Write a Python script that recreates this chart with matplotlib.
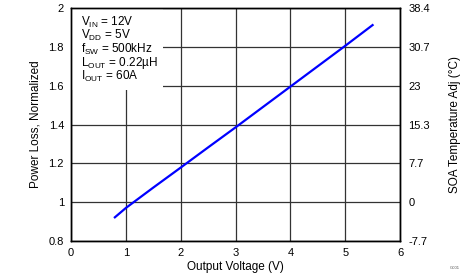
import matplotlib
matplotlib.use("Agg")
import matplotlib.pyplot as plt
from matplotlib.patches import Rectangle

plt.rcParams["font.family"] = ["Liberation Sans", "DejaVu Sans"]
plt.rcParams["mathtext.fontset"] = "custom"
plt.rcParams["mathtext.rm"] = "Liberation Sans"
plt.rcParams["mathtext.it"] = "Liberation Sans"

# data
vout = [0.8, 1.0, 1.5, 2.0, 2.5, 3.0, 3.5, 4.0, 4.5, 5.0, 5.5]
ploss = [0.922, 0.97, 1.075, 1.178, 1.282, 1.385, 1.49, 1.595, 1.70, 1.805, 1.912]

x_ticks = [0, 1, 2, 3, 4, 5, 6]
y_ticks = [0.8, 1.0, 1.2, 1.4, 1.6, 1.8, 2.0]
y_labels = ["0.8", "1", "1.2", "1.4", "1.6", "1.8", "2"]
temp_labels = ["-7.7", "0", "7.7", "15.3", "23", "30.7", "38.4"]

conditions = [
    r"V$_{\mathrm{IN}}$ = 12V",
    r"V$_{\mathrm{DD}}$ = 5V",
    r"f$_{\mathrm{SW}}$ = 500kHz",
    r"L$_{\mathrm{OUT}}$ = 0.22µH",
    r"I$_{\mathrm{OUT}}$ = 60A",
]

fig = plt.figure(figsize=(4.69, 2.79), dpi=100)
ax = fig.add_axes([71 / 469, 1 - 241 / 279, 329 / 469, 233 / 279])

ax.set_axisbelow(True)
ax.grid(True, color="#333333", linewidth=0.9)
ax.plot(vout, ploss, color="#0000ff", linewidth=1.6, zorder=3)

ax.set_xlim(0, 6)
ax.set_ylim(0.8, 2.0)
ax.set_xticks(x_ticks)
ax.set_yticks(y_ticks)
ax.set_yticklabels(y_labels)
ax.tick_params(length=0, labelsize=8, pad=5)
ax.set_xlabel("Output Voltage (V)", fontsize=8.5, labelpad=2)
ax.set_ylabel("Power Loss, Normalized", fontsize=8.5, labelpad=5)
for s in ax.spines.values():
    s.set_linewidth(1.0)

# white box behind the conditions text
ax.add_patch(Rectangle((0, 0.648), 0.28, 0.352, transform=ax.transAxes,
                       facecolor="white", edgecolor="none", zorder=1))
for i, line in enumerate(conditions):
    ax.text(0.03, 0.924 - i * 0.058, line, transform=ax.transAxes,
            fontsize=8.5, va="baseline", ha="left", zorder=4)

ax2 = ax.twinx()
ax2.set_ylim(0.8, 2.0)
ax2.set_yticks(y_ticks)
ax2.set_yticklabels(temp_labels)
ax2.tick_params(length=0, labelsize=8, pad=6)
ax2.set_ylabel("SOA Temperature Adj (°C)", fontsize=8.5, labelpad=14)
for s in ax2.spines.values():
    s.set_linewidth(1.0)

fig.text(0.97, 0.035, "G001", fontsize=3, color="#555555", ha="center")

fig.savefig("out.png", dpi=100)
